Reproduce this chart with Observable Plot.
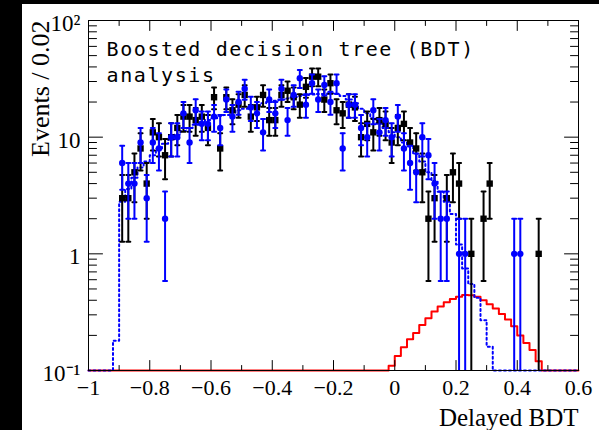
<!DOCTYPE html>
<html><head><meta charset="utf-8">
<script src="https://cdn.jsdelivr.net/npm/d3@7"></script>
<script src="https://cdn.jsdelivr.net/npm/@observablehq/plot@0.6"></script>
<style>
html,body{margin:0;padding:0;background:#000;width:599px;height:430px;overflow:hidden}
#chart{position:absolute;left:22px;top:4px;width:577px;height:426px;background:#fff}
.anno text{letter-spacing:1.6px}
</style></head><body><div id="chart"></div>
<script>
// 80 bins of width 0.02 from -1 to 0.6
const binLow = -1, binWidth = 0.02;
// observed events (black squares)
const dataBlack = [
  0,0,0,0,0, 3,3,5,8,4, 11,10,7,10,12, 15,15,14,15,12,
  22,8,22,17,19, 23,15,18,23,14, 14,23,25,22,19, 27,33,33,21,29,
  17,16,19,18,10, 13,11,14,13,9, 12,13,9,8,5, 2,3,0,3,5,
  4,0,1,0,2, 4,0,0,0,0, 0,0,0,1,0, 0,0,0,0,0];
// second sample (blue circles)
const dataBlue = [
  0,0,0,0,0, 6,4,4,9,3, 9,8,2,10,10, 16,9,17,13,13,
  15,12,21,15,20, 26,18,16,11,21, 16,26,14,23,32, 19,29,21,28,20,
  29,8,19,19,12, 10,17,11,14,10, 15,8,6,5,10, 7,4,2,2,0,
  1,1,0,0,0, 0,0,0,0,1, 1,0,0,0,0, 0,0,0,0,0];
// background expectation (blue dotted histogram)
const background = [
  0,0,0,0,0.18, 2.8,3.6,4.5,5.5,6.2, 7.0,8.0,8.8,9.6,10.5, 11.3,12,12.8,13.5,14,
  14.5,15.2,15.5,16.2,17, 17.5,18,18.8,19.5,20, 20.5,21,21.5,22,22.5, 23,23.2,23.5,23.5,23.8,
  23.5,22.5,21,19.5,17.5, 16,14.5,13,12,11, 10,9,8.3,7.2,6.2, 5,4.2,3.4,2.8,2.2,
  1.2,0.75,0.55,0.42,0.27, 0.16,0,0,0,0, 0,0,0,0,0, 0,0,0,0,0];
// signal expectation (red histogram)
const signal = [
  0,0,0,0,0, 0,0,0,0,0, 0,0,0,0,0, 0,0,0,0,0,
  0,0,0,0,0, 0,0,0,0,0, 0,0,0,0,0, 0,0,0,0,0,
  0,0,0,0,0, 0,0,0,0,0.11, 0.133,0.158,0.185,0.21,0.245, 0.28,0.32,0.353,0.385,0.41,
  0.428,0.444,0.442,0.428,0.4, 0.37,0.34,0.305,0.273,0.24, 0.2,0.172,0.15,0.12,0, 0,0,0,0,0];

const xMajorTicks = [-1,-0.8,-0.6,-0.4,-0.2,0,0.2,0.4,0.6];
const xMinorTicks = [-0.9,-0.7,-0.5,-0.3,-0.1,0.1,0.3,0.5];
const yMajorTicks = [0.1,1,10,100];
const yTickLabels = ["10\u207B\u00B9","1","10","10\u00B2"];
const yMinorTicks = [0.2,0.3,0.4,0.5,0.6,0.7,0.8,0.9,2,3,4,5,6,7,8,9,20,30,40,50,60,70,80,90];
const title = "Boosted decision tree (BDT)\nanalysis";
const xLabel = "Delayed BDT";
const yLabel = "Events / 0.02";

const yMin = 0.1;
const points = arr => arr.map((n,i)=>({x: binLow+(i+0.5)*binWidth, n,
  lo: Math.max(n-Math.sqrt(n), yMin), hi: n+Math.sqrt(n)})).filter(d=>d.n>0);
const hist = arr => arr.map((v,i)=>({x: binLow+i*binWidth, y: Math.max(v,yMin)}))
  .concat([{x: binLow+arr.length*binWidth, y: Math.max(arr[arr.length-1],yMin)}]);

const lineShape = {draw(ctx, l){ ctx.moveTo(0,0); ctx.lineTo(0,-l); }};
const serif = "Liberation Serif, Times New Roman, serif";
const pB = points(dataBlack), pU = points(dataBlue);

const tickMarks = (vals, len, isX) => isX ? [
  Plot.vector(vals, {x: d=>d, frameAnchor:"bottom", anchor:"start", rotate:0, length:len, shape:lineShape, stroke:"#000", strokeWidth:1}),
  Plot.vector(vals, {x: d=>d, frameAnchor:"top", anchor:"start", rotate:180, length:len, shape:lineShape, stroke:"#000", strokeWidth:1})
] : [
  Plot.vector(vals, {y: d=>d, frameAnchor:"left", anchor:"start", rotate:90, length:len, shape:lineShape, stroke:"#000", strokeWidth:1}),
  Plot.vector(vals, {y: d=>d, frameAnchor:"right", anchor:"start", rotate:-90, length:len, shape:lineShape, stroke:"#000", strokeWidth:1})
];

const chart = Plot.plot({
  width: 577, height: 426,
  marginLeft: 66, marginTop: 16, marginRight: 21, marginBottom: 60,
  style: {background: "white", overflow: "visible"},
  x: {domain: [-1, 0.6], axis: null},
  y: {type: "log", domain: [0.1, 100], axis: null},
  marks: [
    Plot.line(hist(signal), {x:"x", y:"y", curve:"step-after", stroke:"#ff0000", strokeWidth:2}),
    Plot.line(hist(background), {x:"x", y:"y", curve:"step-after", stroke:"#0000ff", strokeWidth:2, strokeDasharray:"2,3"}),
    Plot.ruleX(pB, {x:"x", y1:"lo", y2:"hi", stroke:"#000", strokeWidth:2}),
    Plot.vector(pB, {x:"x", y:"hi", rotate:90, anchor:"middle", length:4, shape:lineShape, stroke:"#000", strokeWidth:2}),
    Plot.vector(pB.filter(d=>d.lo>yMin), {x:"x", y:"lo", rotate:90, anchor:"middle", length:4, shape:lineShape, stroke:"#000", strokeWidth:2}),
    Plot.dot(pB, {x:"x", y:"n", symbol:"square", r:3.6, fill:"#000"}),
    Plot.ruleX(pU, {x:"x", y1:"lo", y2:"hi", stroke:"#0000ff", strokeWidth:2}),
    Plot.vector(pU, {x:"x", y:"hi", rotate:90, anchor:"middle", length:4, shape:lineShape, stroke:"#0000ff", strokeWidth:2}),
    Plot.vector(pU.filter(d=>d.lo>yMin), {x:"x", y:"lo", rotate:90, anchor:"middle", length:4, shape:lineShape, stroke:"#0000ff", strokeWidth:2}),
    Plot.dot(pU, {x:"x", y:"n", r:3.2, fill:"#0000ff"}),
    ...tickMarks(xMajorTicks, 10, true),
    ...tickMarks(xMinorTicks, 5, true),
    ...tickMarks(yMajorTicks, 14, false),
    ...tickMarks(yMinorTicks, 8, false),
    Plot.frame({stroke:"#000", strokeWidth:1}),
    Plot.text(xMajorTicks, {x:d=>d, text:d=>d3.format("~g")(d), frameAnchor:"bottom", lineAnchor:"top", dy:9, fontSize:22, fontFamily:serif, fill:"#000"}),
    Plot.text(yMajorTicks, {y:d=>d, text:(d,i)=>yTickLabels[i], frameAnchor:"left", textAnchor:"end", dx:-8, dy:3, fontSize:23, fontFamily:serif, fill:"#000"}),
    Plot.text([xLabel], {text:d=>d, frameAnchor:"bottom-right", textAnchor:"end", lineAnchor:"bottom", dy:55, fontSize:25, fontFamily:serif, fill:"#000"}),
    Plot.text([yLabel], {text:d=>d, frameAnchor:"top-left", textAnchor:"end", lineAnchor:"bottom", rotate:-90, dx:-40, dy:0, fontSize:26, fontFamily:serif, fill:"#000"}),
    Plot.text([title], {text:d=>d, frameAnchor:"top-left", textAnchor:"start", lineAnchor:"top", dx:18, dy:17, fontSize:20, lineHeight:1.3, fontFamily:"DejaVu Sans Mono, monospace", fill:"#000", className:"anno"})
  ]
});
document.getElementById("chart").appendChild(chart);
</script></body></html>
